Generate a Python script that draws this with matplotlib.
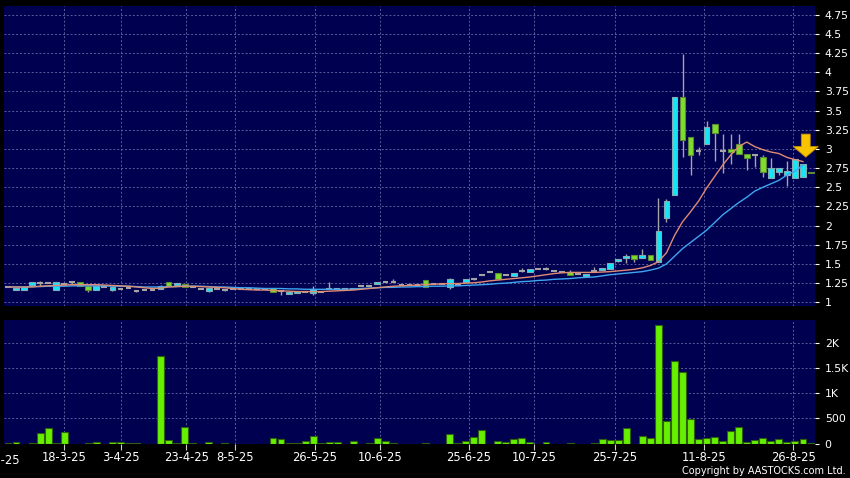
import numpy as np
import matplotlib
matplotlib.use("Agg")
import matplotlib.pyplot as plt

# ---------------- data ----------------
opens = [1.20, 1.16, 1.16, 1.23, 1.25, 1.25, 1.165, 1.235, 1.26, 1.26,
         1.21, 1.165, 1.20, 1.165, 1.18, 1.19, 1.15, 1.155, 1.155, 1.18,
         1.26, 1.22, 1.24, 1.20, 1.18, 1.15, 1.18, 1.165, 1.18, 1.18,
         1.18, 1.18, 1.18, 1.19, 1.145, 1.11, 1.125, 1.13, 1.125, 1.13,
         1.18, 1.18, 1.18, 1.18, 1.21, 1.21, 1.235, 1.26, 1.265, 1.22,
         1.22, 1.22, 1.285, 1.235, 1.235, 1.195, 1.225, 1.265, 1.305, 1.35,
         1.39, 1.38, 1.35, 1.347, 1.41, 1.39, 1.43, 1.44, 1.41, 1.40,
         1.39, 1.365, 1.34, 1.41, 1.42, 1.44, 1.535, 1.578, 1.613, 1.573,
         1.613, 1.52, 2.095, 2.395, 3.68, 3.16, 2.977, 3.064, 3.32, 2.973,
         3.00, 3.06, 2.93, 2.92, 2.89, 2.617, 2.699, 2.66, 2.617, 2.63,
         2.70]
highs = [1.20, 1.19, 1.20, 1.265, 1.28, 1.25, 1.26, 1.235, 1.28, 1.26,
         1.21, 1.21, 1.20, 1.195, 1.18, 1.19, 1.15, 1.155, 1.155, 1.225,
         1.26, 1.25, 1.24, 1.20, 1.18, 1.19, 1.18, 1.18, 1.18, 1.18,
         1.19, 1.18, 1.18, 1.19, 1.145, 1.135, 1.147, 1.13, 1.21, 1.13,
         1.26, 1.18, 1.18, 1.18, 1.21, 1.21, 1.26, 1.26, 1.31, 1.22,
         1.22, 1.22, 1.285, 1.235, 1.235, 1.315, 1.225, 1.305, 1.32, 1.35,
         1.40, 1.38, 1.35, 1.38, 1.443, 1.44, 1.43, 1.46, 1.41, 1.40,
         1.42, 1.365, 1.37, 1.456, 1.447, 1.51, 1.565, 1.63, 1.613, 1.70,
         1.613, 2.355, 2.345, 3.673, 4.237, 3.16, 3.02, 3.364, 3.32, 3.19,
         3.19, 3.19, 2.93, 2.92, 2.92, 2.877, 2.747, 2.846, 2.864, 2.803,
         2.70]
lows = [1.20, 1.16, 1.16, 1.23, 1.21, 1.25, 1.165, 1.235, 1.245, 1.21,
        1.14, 1.165, 1.20, 1.15, 1.18, 1.19, 1.14, 1.155, 1.155, 1.17,
        1.215, 1.22, 1.205, 1.20, 1.18, 1.14, 1.18, 1.15, 1.18, 1.18,
        1.18, 1.18, 1.18, 1.14, 1.10, 1.11, 1.125, 1.13, 1.10, 1.13,
        1.18, 1.18, 1.18, 1.18, 1.21, 1.21, 1.235, 1.26, 1.265, 1.22,
        1.22, 1.22, 1.195, 1.235, 1.235, 1.18, 1.225, 1.265, 1.285, 1.35,
        1.39, 1.31, 1.35, 1.347, 1.39, 1.39, 1.43, 1.417, 1.41, 1.40,
        1.35, 1.365, 1.333, 1.41, 1.42, 1.44, 1.53, 1.51, 1.53, 1.573,
        1.55, 1.52, 2.05, 2.395, 2.89, 2.656, 2.925, 3.064, 2.846, 2.69,
        2.80, 2.933, 2.725, 2.76, 2.638, 2.617, 2.66, 2.516, 2.617, 2.63,
        2.68]
closes = [1.20, 1.19, 1.20, 1.26, 1.25, 1.25, 1.26, 1.235, 1.26, 1.21,
          1.165, 1.21, 1.20, 1.195, 1.18, 1.19, 1.15, 1.155, 1.155, 1.21,
          1.215, 1.25, 1.205, 1.20, 1.18, 1.19, 1.18, 1.165, 1.18, 1.18,
          1.18, 1.18, 1.18, 1.14, 1.145, 1.135, 1.147, 1.13, 1.175, 1.13,
          1.18, 1.18, 1.18, 1.18, 1.21, 1.21, 1.26, 1.26, 1.265, 1.22,
          1.22, 1.22, 1.195, 1.235, 1.235, 1.30, 1.225, 1.305, 1.305, 1.35,
          1.39, 1.31, 1.35, 1.38, 1.41, 1.44, 1.43, 1.44, 1.41, 1.40,
          1.35, 1.365, 1.37, 1.41, 1.447, 1.51, 1.565, 1.60, 1.57, 1.613,
          1.55, 1.93, 2.32, 3.673, 3.116, 2.917, 2.977, 3.29, 3.203, 2.973,
          2.956, 2.933, 2.877, 2.92, 2.703, 2.747, 2.747, 2.712, 2.864, 2.803,
          2.68]
volumes = [20, 26, 0, 13, 205, 316, 13, 225, 0, 0,
           13, 40, 0, 40, 26, 7, 20, 0, 0, 1733,
           79, 5, 336, 20, 0, 26, 0, 5, 0, 0,
           0, 0, 0, 112, 86, 20, 20, 59, 146, 5,
           26, 26, 0, 59, 0, 20, 112, 53, 5, 0,
           0, 0, 10, 0, 0, 185, 20, 47, 140, 270,
           0, 46, 32, 86, 112, 26, 0, 26, 0, 0,
           13, 0, 0, 20, 86, 72, 79, 304, 0, 158,
           112, 2346, 455, 1634, 1423, 482, 86, 105, 132, 46,
           244, 330, 40, 72, 112, 53, 92, 26, 59, 99,
           20]
ma10 = [1.20, 1.20, 1.20, 1.20, 1.21, 1.215, 1.22, 1.225, 1.23, 1.23,
        1.23, 1.23, 1.225, 1.22, 1.215, 1.21, 1.20, 1.19, 1.18, 1.185,
        1.20, 1.205, 1.21, 1.21, 1.205, 1.20, 1.195, 1.19, 1.18, 1.17,
        1.165, 1.16, 1.16, 1.155, 1.15, 1.145, 1.14, 1.14, 1.14, 1.14,
        1.145, 1.15, 1.155, 1.16, 1.17, 1.18, 1.19, 1.20, 1.21, 1.215,
        1.22, 1.225, 1.23, 1.235, 1.24, 1.245, 1.245, 1.25, 1.255, 1.265,
        1.28, 1.29, 1.30, 1.31, 1.32, 1.33, 1.345, 1.36, 1.375, 1.385,
        1.39, 1.39, 1.39, 1.39, 1.395, 1.40, 1.41, 1.42, 1.43, 1.45,
        1.48, 1.53, 1.645, 1.87, 2.05, 2.18, 2.32, 2.49, 2.64, 2.79,
        2.92, 3.03, 3.09, 3.03, 2.99, 2.96, 2.94, 2.89, 2.86, 2.835,
        np.nan]
ma20 = [1.20, 1.20, 1.20, 1.205, 1.205, 1.21, 1.21, 1.21, 1.215, 1.215,
        1.215, 1.215, 1.215, 1.21, 1.21, 1.21, 1.205, 1.20, 1.20, 1.20,
        1.205, 1.205, 1.21, 1.21, 1.21, 1.205, 1.20, 1.20, 1.195, 1.19,
        1.19, 1.185, 1.18, 1.18, 1.18, 1.175, 1.175, 1.17, 1.17, 1.17,
        1.17, 1.17, 1.17, 1.175, 1.18, 1.185, 1.19, 1.195, 1.195, 1.20,
        1.20, 1.205, 1.205, 1.21, 1.21, 1.215, 1.215, 1.22, 1.225, 1.23,
        1.235, 1.245, 1.25, 1.26, 1.27, 1.275, 1.285, 1.29, 1.30, 1.305,
        1.31, 1.32, 1.325, 1.33, 1.345, 1.36, 1.37, 1.38, 1.39, 1.40,
        1.42, 1.445, 1.50, 1.60, 1.70, 1.78, 1.86, 1.94, 2.04, 2.14,
        2.22, 2.30, 2.37, 2.45, 2.50, 2.545, 2.59, 2.66, 2.71, 2.79,
        np.nan]

date_labels = ["4-3-25", "18-3-25", "3-4-25", "23-4-25", "8-5-25", "26-5-25",
               "10-6-25", "25-6-25", "10-7-25", "25-7-25", "11-8-25", "26-8-25"]
date_pos = [-0.87, 7.0, 14.1, 22.2, 28.3, 38.2, 46.3, 57.4, 65.5, 75.6, 86.7, 97.8]
price_ticks = [1, 1.25, 1.5, 1.75, 2, 2.25, 2.5, 2.75, 3, 3.25, 3.5, 3.75,
               4, 4.25, 4.5, 4.75]
vol_ticks = [0, 500, 1000, 1500, 2000]
vol_tick_labels = ["0", "500", "1K", "1.5K", "2K"]
marked_day = 99

# ---------------- styling ----------------
BG = "#000050"
GRID = "#5c5c9c"
CYAN = "#14e6f6"
CYAN_EDGE = "#86aab4"
GREEN = "#7edc2c"
GREEN_EDGE = "#5e8a36"
WICK = "#a4a4a4"
VOL = "#66f000"
VOL_EDGE = "#2f6010"

o = np.array(opens); h = np.array(highs); l = np.array(lows); c = np.array(closes)
v = np.array(volumes)
x = np.arange(len(o))
up = c > o
dn = c < o
flat = c == o

W, H = 850, 478
fig = plt.figure(figsize=(W / 100, H / 100), dpi=100, facecolor="black")

def fx(px):
    return px / W

def fy(py):
    return 1 - py / H

axp = fig.add_axes([fx(4), fy(306), fx(811), (306 - 5.5) / H], facecolor=BG)
axv = fig.add_axes([fx(4), fy(443.7), fx(811), (443.7 - 320) / H], facecolor=BG, sharex=axp)

for ax in (axp, axv):
    for s in ax.spines.values():
        s.set_visible(False)
    ax.set_axisbelow(True)
    ax.grid(True, color=GRID, linestyle=(0, (2, 2)), linewidth=0.7)
    ax.yaxis.tick_right()
    ax.tick_params(axis="y", which="both", left=False, right=True, length=3,
                   width=0.8, color="white", pad=4, labelcolor="white",
                   labelsize=7.8)

# price panel
axp.vlines(x[h > l], l[h > l], h[h > l], color=WICK, linewidth=1.0, zorder=2)
axp.bar(x[up], (c - o)[up], bottom=o[up], width=0.72, color=CYAN,
        edgecolor=CYAN_EDGE, linewidth=0.8, zorder=3)
axp.bar(x[dn], (o - c)[dn], bottom=c[dn], width=0.72, color=GREEN,
        edgecolor=GREEN_EDGE, linewidth=0.8, zorder=3)
axp.hlines(c[flat], x[flat] - 0.36, x[flat] + 0.36, color=WICK,
           linewidth=1.5, zorder=3)
axp.plot(x, ma20, color="#3ea6f0", linewidth=1.0, zorder=4)
axp.plot(x, ma10, color="#e08c72", linewidth=1.0, zorder=4)

tip = highs[marked_day] + 0.09
axp.annotate("", xy=(marked_day + 0.35, tip), xytext=(marked_day + 0.35, tip + 0.30),
             arrowprops=dict(arrowstyle="simple,head_length=0.38,head_width=0.9,tail_width=0.32",
                             mutation_scale=20, fc="#f8c400", ec="#c88e00", lw=0.6,
                             shrinkA=0, shrinkB=0), zorder=6)

axp.set_xlim(-0.5, 100.5)
axp.set_ylim(0.952, 4.87)
axp.set_yticks(price_ticks)
axp.set_yticklabels([f"{t:g}" for t in price_ticks])
axp.set_xticks(date_pos[1:])
axp.tick_params(axis="x", length=0, labelbottom=False)

# volume panel
axv.bar(x, v, width=0.86, color=VOL, edgecolor=VOL_EDGE, linewidth=0.8, zorder=3)
axv.set_ylim(0, 2445)
axv.set_yticks(vol_ticks)
axv.set_yticklabels(vol_tick_labels)
axv.set_xticks(date_pos[1:])
axv.set_xticklabels(date_labels[1:])
axv.tick_params(axis="x", length=4, width=0.8, color="#cccccc", pad=1.5,
                labelcolor="white", labelsize=8.3)
axv.text(date_pos[0], -0.08, date_labels[0], transform=axv.get_xaxis_transform(),
         ha="center", va="top", color="white", fontsize=8.3, clip_on=False)

fig.text(fx(846), fy(471), "Copyright by AASTOCKS.com Ltd.", color="white",
         fontsize=7, ha="right", va="center")

fig.savefig("out.png", dpi=100, facecolor="black")
